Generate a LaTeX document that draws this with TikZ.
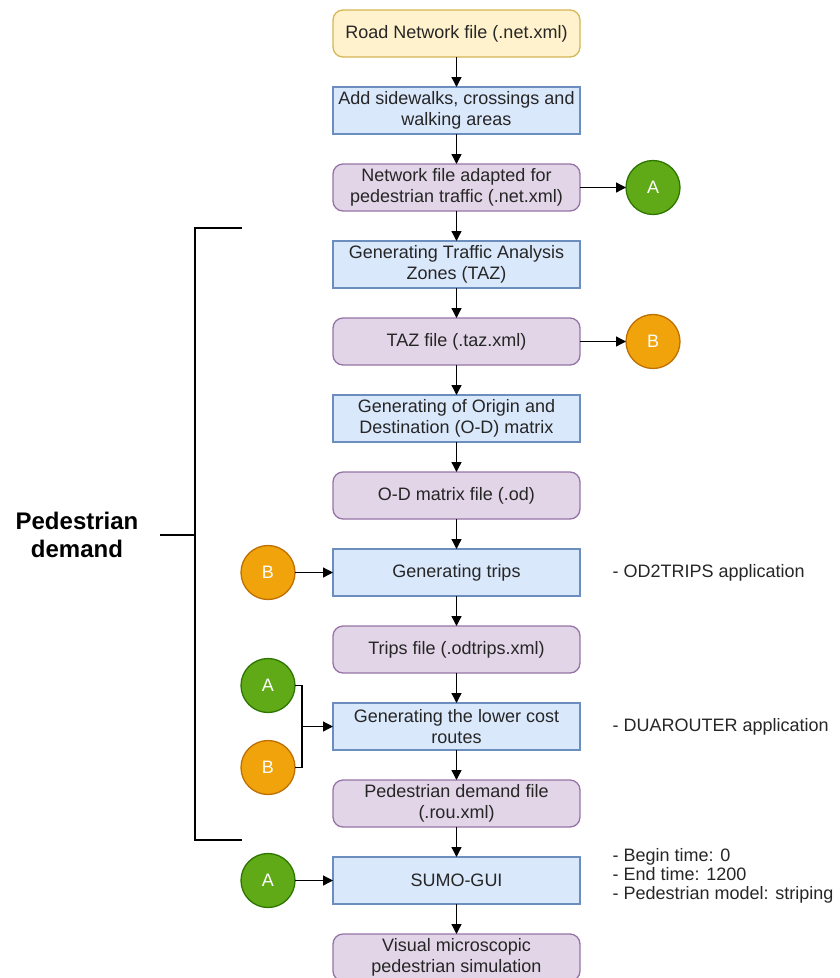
\documentclass[tikz,border=0pt]{standalone}
\usepackage{fontspec}
\setmainfont{Liberation Sans}
\usepackage{xcolor}
\usepackage{tikz}
\usetikzlibrary{positioning, arrows.meta}

\definecolor{yellowfill}{HTML}{FFF2CC}
\definecolor{yellowline}{HTML}{D6B656}
\definecolor{bluefill}{HTML}{DAE8FC}
\definecolor{blueline}{HTML}{6C8EBF}
\definecolor{purplefill}{HTML}{E1D5E7}
\definecolor{purpleline}{HTML}{9673A6}
\definecolor{greenfill}{HTML}{60A917}
\definecolor{greenline}{HTML}{2D7600}
\definecolor{orangefill}{HTML}{F0A30A}
\definecolor{orangeline}{HTML}{BD7000}

\begin{document}
\begin{tikzpicture}[x=1pt, y=-1pt, node distance = 30pt, line width=1.3pt,
        >={Triangle[length=10pt, width=10pt]}]
            \tikzstyle{box} = [minimum width=247pt, minimum height=47pt, inner sep=0pt, outer sep=0pt, align=center, font=\fontsize{18}{21}\selectfont, text=black!85]
            \tikzstyle{input} = [box, rounded corners=10pt, draw=yellowline, fill=yellowfill]
            \tikzstyle{task} = [box, rectangle, draw=blueline, fill=bluefill]
            \tikzstyle{output} = [box, rounded corners=10pt, draw=purpleline, fill=purplefill]
            \tikzstyle{linkA} = [circle, minimum size=54pt, inner sep=0pt, outer sep=0pt, draw=greenline, fill=greenfill, text=white, font=\fontsize{18}{21}\selectfont]
            \tikzstyle{linkB} = [linkA, draw=orangeline, fill=orangefill]
            \tikzstyle{note} = [inner sep=0pt, align=left, font=\fontsize{18}{19}\selectfont, text=black!85]
            \useasboundingbox (0,0) rectangle (839,978);

            \node [input] (S0) at (456.5,33.5) {Road Network file (.net.xml)};
            \node [task, below = of S0] (S1) {Add sidewalks, crossings and\\walking areas};
            \node [output, below = of S1] (S2) {Network file adapted for\\pedestrian traffic (.net.xml)};
            \node [linkA, right = 46pt of S2] (A1) {A};

            \node [task, below = of S2] (S3) {Generating Traffic Analysis\\Zones (TAZ)};
            \node [output, below = of S3] (S4) {TAZ file (.taz.xml)};
            \node [linkB, right = 46pt of S4] (B1) {B};

            \node [task, below = of S4] (S5) {Generating of Origin and\\Destination (O-D) matrix};
            \node [output, below = of S5] (S6) {O-D matrix file (.od)};

            \node [task, below = of S6] (S7) {Generating trips};
            \node [linkB, left = 38pt of S7] (B2) {B};
            \node [note, right = 32pt of S7] (N1) {- OD2TRIPS application};

            \node [output, below = of S7] (S8) {Trips file (.odtrips.xml)};

            \node [task, below = of S8] (S9) {Generating the lower cost\\routes};
            \coordinate [left = 31pt of S9.west] (J);
            \node [linkA, left = 38pt of S9, yshift=41pt] (A2) {A};
            \node [linkB, left = 38pt of S9, yshift=-41pt] (B3) {B};
            \node [note, right = 32pt of S9] (N2) {- DUAROUTER application};

            \node [output, below = of S9] (S10) {Pedestrian demand file\\(.rou.xml)};

            \node [task, below = of S10] (S11) {SUMO-GUI};
            \node [linkA, left = 38pt of S11] (A3) {A};
            \node [note, right = 32pt of S11, yshift=5pt] (N3) {- Begin time: 0\\- End time: 1200\\- Pedestrian model: striping};

            \node [output, below = of S11] (S12) {Visual microscopic\\pedestrian simulation};

            % pedestrian demand bracket
            \node [font=\fontsize{24}{28}\selectfont\bfseries, align=center] (PD) at (77,535) {Pedestrian\\demand};
            \draw [line width=2.5pt] (242,228) -- (195,228) -- (195,840) -- (242,840);
            \draw [line width=2.5pt] (160,535) -- (195,535);

            \foreach \i/\j in {0/1, 1/2, 2/3, 3/4, 4/5, 5/6, 6/7, 7/8, 8/9, 9/10, 10/11, 11/12}
                \draw [->] (S\i) to (S\j);
            \draw [->] (S2) to (A1);
            \draw [->] (S4) to (B1);
            \draw [->] (B2) to (S7);
            \draw [->] (A3) to (S11);
            \draw (A2.east) -| (J) |- (B3.east);
            \draw [->] (J) to (S9.west);
        \end{tikzpicture}
\end{document}
